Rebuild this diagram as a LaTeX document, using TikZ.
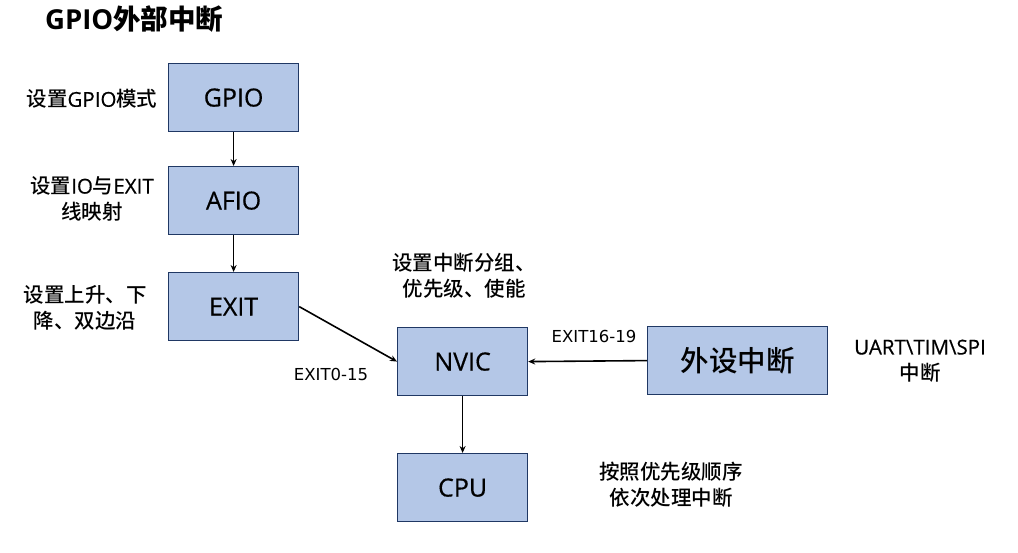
\documentclass[tikz,border=0pt]{standalone}
\usepackage{fontspec}
\setmainfont{Noto Sans CJK SC}
\newfontfamily\lt{Open Sans}
\newfontfamily\cm{Noto Sans CJK SC Medium}
\newfontfamily\lm{Open Sans}[FakeBold=0.5]
\newfontfamily\dv{DejaVu Sans}
\usetikzlibrary{arrows.meta}
\definecolor{boxfill}{HTML}{B4C7E7}
\definecolor{boxline}{HTML}{203864}
\begin{document}
\begin{tikzpicture}[x=1pt,y=-1pt,
  blk/.style={draw=boxline,fill=boxfill,line width=1.2pt,inner sep=0pt,anchor=north west,
    minimum width=130pt,minimum height=68pt,font=\fontsize{25}{28}\selectfont\lm},
  conn/.style={-{Stealth[length=7pt,width=6pt]},line width=1.6pt},
  lbl/.style={align=center,inner sep=0pt,font=\fontsize{20.5}{26}\selectfont\cm},
  small/.style={inner sep=0pt,font=\fontsize{16.5}{20}\selectfont\dv}
]
\useasboundingbox (0,0) rectangle (1018,553);
% title
\node[anchor=west,inner sep=0pt,font=\fontsize{27.5}{30}\selectfont\bfseries] (title) at (45,19) {{\lt GPIO}外部中断};
% boxes
\node[blk] (gpio) at (168,63) {GPIO};
\node[blk] (afio) at (168,166) {AFIO};
\node[blk] (exit) at (168,272) {EXIT};
\node[blk] (nvic) at (397,327) {NVIC};
\node[blk,minimum width=180pt,font=\fontsize{28.5}{30}\selectfont\cm] (periph) at (647,326) {外设中断};
\node[blk] (cpu) at (397,453) {CPU};
% side labels
\node[lbl] (l1) at (92,99) {设置{\lm GPIO}模式};
\node[lbl] (l2) at (92,199) {设置{\lm IO}与{\lm EXIT}\\线映射};
\node[lbl] (l3) at (85,308) {设置上升、下\\降、双边沿};
\node[lbl] (l4) at (464,276) {设置中断分组、\\优先级、使能};
\node[lbl] (l5) at (920,361) {{\lm UART\textbackslash TIM\textbackslash SPI}\\中断};
\node[lbl] (l6) at (671,485) {按照优先级顺序\\依次处理中断};
\node[small] (e1) at (331,374) {EXIT0-15};
\node[small] (e2) at (594,336) {EXIT16-19};
% connectors
\draw[conn] (gpio.south) -- (afio.north);
\draw[conn] (afio.south) -- (exit.north);
\draw[conn] (exit.east) -- (nvic.west);
\draw[conn] (periph.west) -- (nvic.east);
\draw[conn] (nvic.south) -- (cpu.north);
\end{tikzpicture}
\end{document}
